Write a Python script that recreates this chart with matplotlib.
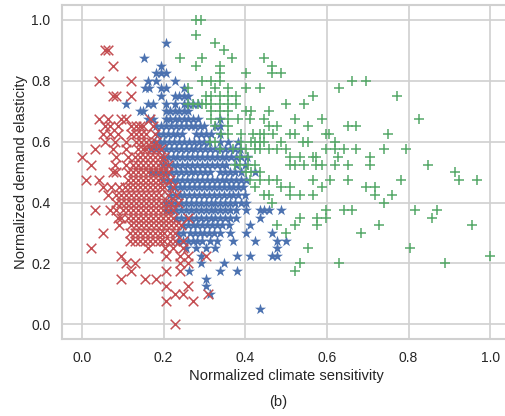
import matplotlib
matplotlib.use("Agg")
import matplotlib.pyplot as plt
import seaborn as sns

# Each row: (demand elasticity, [climate sensitivity values on that row])
red_rows = [
    (0.90, [0.056, 0.064]),
    (0.85, [0.076]),
    (0.80, [0.043, 0.119]),
    (0.75, [0.076, 0.084, 0.119]),
    (0.675, [0.043, 0.064, 0.096, 0.109, 0.166]),
    (0.65, [0.056, 0.068, 0.088, 0.121, 0.133, 0.141, 0.149, 0.174]),
    (0.625, [0.051, 0.068, 0.088, 0.121, 0.133, 0.145, 0.158, 0.178]),
    (0.60, [0.056, 0.080, 0.109, 0.133, 0.145, 0.158, 0.170, 0.182]),
    (0.575, [0.031, 0.076, 0.109, 0.137, 0.149, 0.158, 0.170, 0.182, 0.194]),
    (0.55, [0.001, 0.084, 0.113, 0.129, 0.141, 0.154, 0.166, 0.178, 0.190, 0.202]),
    (0.525, [0.023, 0.080, 0.109, 0.125, 0.137, 0.149, 0.162, 0.174, 0.186, 0.198, 0.210]),
    (0.50, [0.076, 0.084, 0.113, 0.125, 0.137, 0.149, 0.162, 0.174, 0.186, 0.198, 0.210]),
    (0.475, [0.011, 0.043, 0.113, 0.125, 0.137, 0.149, 0.162, 0.174, 0.186, 0.198, 0.215]),
    (0.45, [0.051, 0.072, 0.092, 0.105, 0.117, 0.129, 0.141, 0.154, 0.166, 0.178, 0.190, 0.202, 0.222]),
    (0.425, [0.064, 0.084, 0.096, 0.109, 0.121, 0.133, 0.145, 0.158, 0.170, 0.182, 0.194, 0.210, 0.230]),
    (0.40, [0.084, 0.096, 0.109, 0.121, 0.133, 0.145, 0.158, 0.170, 0.182, 0.194, 0.206, 0.218, 0.235]),
    (0.375, [0.031, 0.068, 0.084, 0.100, 0.113, 0.125, 0.137, 0.149, 0.162, 0.174, 0.186, 0.198, 0.210, 0.223]),
    (0.35, [0.088, 0.096, 0.113, 0.125, 0.137, 0.149, 0.162, 0.174, 0.186, 0.198, 0.210, 0.223, 0.260]),
    (0.325, [0.092, 0.121, 0.133, 0.145, 0.158, 0.170, 0.182, 0.194, 0.206, 0.218, 0.231, 0.243]),
    (0.30, [0.051, 0.117, 0.129, 0.141, 0.154, 0.166, 0.178, 0.190, 0.202, 0.215, 0.227]),
    (0.275, [0.117, 0.129, 0.141, 0.154, 0.166, 0.178, 0.190, 0.202, 0.215, 0.227, 0.247]),
    (0.25, [0.021, 0.162, 0.203, 0.223, 0.247]),
    (0.225, [0.096, 0.207, 0.239, 0.260, 0.305]),
    (0.20, [0.109, 0.129, 0.239, 0.260]),
    (0.175, [0.121, 0.207, 0.239]),
    (0.15, [0.096, 0.154, 0.182]),
    (0.125, [0.207, 0.260]),
    (0.10, [0.227, 0.247, 0.309]),
    (0.075, [0.207, 0.272]),
    (0.0, [0.227]),
]

blue_rows = [
    (0.925, [0.205]),
    (0.875, [0.152]),
    (0.85, [0.194]),
    (0.825, [0.182, 0.194, 0.205]),
    (0.80, [0.162, 0.182, 0.227]),
    (0.775, [0.154, 0.164, 0.194, 0.205, 0.249]),
    (0.75, [0.194, 0.227, 0.237, 0.249, 0.260]),
    (0.725, [0.109, 0.162, 0.174, 0.205, 0.227, 0.249, 0.260, 0.272, 0.284]),
    (0.70, [0.141, 0.149, 0.205, 0.215, 0.227, 0.237, 0.249, 0.260]),
    (0.675, [0.162, 0.174, 0.205, 0.215, 0.227, 0.237, 0.249, 0.260, 0.272, 0.284, 0.337]),
    (0.65, [0.182, 0.194, 0.206, 0.218, 0.230, 0.242, 0.254, 0.266, 0.278, 0.290, 0.300, 0.325, 0.337]),
    (0.625, [0.186, 0.198, 0.210, 0.222, 0.234, 0.246, 0.280, 0.292, 0.304, 0.317, 0.337]),
    (0.60, [0.178, 0.190, 0.202, 0.214, 0.226, 0.238, 0.250, 0.262, 0.274, 0.286, 0.298, 0.310,
            0.337, 0.357, 0.382]),
    (0.575, [0.170, 0.182, 0.194, 0.206, 0.218, 0.230, 0.242, 0.254, 0.266, 0.278, 0.290, 0.302,
             0.314, 0.326, 0.338, 0.350, 0.362, 0.374, 0.386]),
    (0.55, [0.198, 0.210, 0.222, 0.234, 0.246, 0.258, 0.270, 0.282, 0.294, 0.306, 0.318, 0.330,
            0.342, 0.354, 0.366, 0.378, 0.390, 0.405]),
    (0.525, [0.198, 0.210, 0.222, 0.234, 0.246, 0.258, 0.270, 0.282, 0.294, 0.306, 0.318, 0.330,
             0.342, 0.354, 0.378, 0.400]),
    (0.50, [0.170, 0.182, 0.194, 0.206, 0.218, 0.230, 0.242, 0.254, 0.266, 0.278, 0.290, 0.302,
            0.314, 0.338, 0.350, 0.362, 0.374, 0.390, 0.423]),
    (0.475, [0.198, 0.210, 0.222, 0.234, 0.246, 0.258, 0.270, 0.282, 0.294, 0.306, 0.318, 0.330,
             0.342, 0.354, 0.366, 0.378, 0.390, 0.403]),
    (0.45, [0.215, 0.227, 0.239, 0.251, 0.263, 0.275, 0.287, 0.299, 0.311, 0.323, 0.335, 0.347,
            0.359, 0.371, 0.383, 0.395]),
    (0.425, [0.215, 0.227, 0.239, 0.251, 0.263, 0.275, 0.287, 0.299, 0.311, 0.323, 0.335, 0.347,
             0.359, 0.371, 0.383, 0.400]),
    (0.40, [0.207, 0.219, 0.231, 0.243, 0.255, 0.267, 0.279, 0.291, 0.303, 0.315, 0.327, 0.339,
            0.351, 0.363, 0.375, 0.390, 0.403]),
    (0.375, [0.207, 0.219, 0.231, 0.243, 0.255, 0.267, 0.279, 0.291, 0.303, 0.315, 0.327, 0.339,
             0.351, 0.363, 0.378, 0.403, 0.435, 0.445, 0.457, 0.488]),
    (0.35, [0.231, 0.243, 0.255, 0.267, 0.279, 0.291, 0.303, 0.315, 0.327, 0.339, 0.351, 0.363,
            0.378, 0.435]),
    (0.325, [0.247, 0.259, 0.271, 0.283, 0.295, 0.307, 0.319, 0.331, 0.343, 0.360, 0.411]),
    (0.30, [0.235, 0.247, 0.264, 0.276, 0.288, 0.300, 0.312, 0.324, 0.337, 0.362, 0.403, 0.466]),
    (0.275, [0.235, 0.247, 0.259, 0.271, 0.283, 0.295, 0.313, 0.330, 0.370, 0.423, 0.477, 0.500]),
    (0.25, [0.256, 0.280, 0.305, 0.325, 0.477]),
    (0.225, [0.292, 0.380, 0.411, 0.466, 0.477]),
    (0.20, [0.292, 0.347]),
    (0.175, [0.262, 0.337, 0.380]),
    (0.15, [0.305]),
    (0.125, [0.305]),
    (0.10, [0.313]),
    (0.05, [0.435]),
]

green_rows = [
    (1.0, [0.280, 0.292]),
    (0.95, [0.280]),
    (0.925, [0.325]),
    (0.90, [0.347]),
    (0.875, [0.239, 0.295, 0.368, 0.445]),
    (0.85, [0.280, 0.337, 0.466]),
    (0.825, [0.337, 0.403, 0.466, 0.488]),
    (0.80, [0.295, 0.317, 0.337, 0.662, 0.695]),
    (0.775, [0.260, 0.325, 0.357, 0.403, 0.435, 0.629]),
    (0.75, [0.305, 0.317, 0.337, 0.357, 0.378, 0.566, 0.771]),
    (0.725, [0.260, 0.272, 0.284, 0.295, 0.305, 0.317, 0.337, 0.357, 0.378, 0.500, 0.543]),
    (0.70, [0.317, 0.337, 0.357, 0.403, 0.415, 0.457]),
    (0.675, [0.317, 0.337, 0.357, 0.382, 0.411, 0.445, 0.521, 0.587, 0.825]),
    (0.65, [0.325, 0.357, 0.457, 0.477, 0.554, 0.651, 0.672]),
    (0.625, [0.341, 0.357, 0.390, 0.419, 0.435, 0.445, 0.468, 0.509, 0.521, 0.597, 0.606, 0.749]),
    (0.60, [0.313, 0.325, 0.390, 0.415, 0.425, 0.435, 0.445, 0.488, 0.541, 0.554, 0.620]),
    (0.575, [0.337, 0.370, 0.390, 0.403, 0.423, 0.435, 0.457, 0.477, 0.500, 0.597, 0.619, 0.641,
             0.672, 0.739, 0.793]),
    (0.55, [0.386, 0.406, 0.509, 0.533, 0.566, 0.574, 0.627, 0.706]),
    (0.525, [0.374, 0.386, 0.406, 0.423, 0.509, 0.521, 0.543, 0.574, 0.587, 0.620, 0.651, 0.706, 0.847]),
    (0.50, [0.403, 0.415, 0.435, 0.913]),
    (0.475, [0.411, 0.435, 0.457, 0.477, 0.566, 0.608, 0.651, 0.782, 0.923, 0.967]),
    (0.45, [0.423, 0.488, 0.510, 0.587, 0.695, 0.717]),
    (0.425, [0.445, 0.457, 0.510, 0.533, 0.566, 0.717, 0.760]),
    (0.40, [0.466, 0.739]),
    (0.375, [0.597, 0.641, 0.662, 0.815, 0.869]),
    (0.35, [0.533, 0.575, 0.597, 0.858]),
    (0.325, [0.477, 0.521, 0.575, 0.727, 0.956]),
    (0.30, [0.500, 0.684]),
    (0.25, [0.554, 0.804]),
    (0.225, [1.0]),
    (0.20, [0.533, 0.629, 0.890]),
    (0.175, [0.521]),
]

ticks = [0.0, 0.2, 0.4, 0.6, 0.8, 1.0]


def flatten(rows):
    xs, ys = [], []
    for y, row in rows:
        for x in row:
            xs.append(x)
            ys.append(y)
    return xs, ys


sns.set_style("whitegrid")
plt.rcParams["font.family"] = ["Liberation Sans", "DejaVu Sans"]
plt.rcParams["axes.edgecolor"] = "#d0d0d0"
plt.rcParams["grid.color"] = "#d0d0d0"

fig = plt.figure(figsize=(5.05, 4.16), dpi=100)
ax = fig.add_axes([0.1218, 0.1839, 0.8895, 0.8046])

bx, by = flatten(blue_rows)
gx, gy = flatten(green_rows)
rx, ry = flatten(red_rows)

ax.scatter(bx, by, marker="*", s=70, color="#4C72B0", linewidths=0)
ax.scatter(gx, gy, marker="+", s=45, color="#55A868", linewidths=1.1)
ax.scatter(rx, ry, marker="x", s=48, color="#C44E52", linewidths=1.1)

ax.set_xlim(-0.05, 1.05)
ax.set_ylim(-0.05, 1.05)
ax.set_xticks(ticks)
ax.set_yticks(ticks)
ax.tick_params(labelsize=10, pad=4.5, colors="#262626")
ax.grid(True, linewidth=1.2)
for s in ax.spines.values():
    s.set_linewidth(1.5)

ax.set_xlabel("Normalized climate sensitivity", fontsize=10.6, labelpad=3, color="#262626")
ax.set_ylabel("Normalized demand elasticity", fontsize=10.6, labelpad=2, color="#262626")
fig.text(278 / 505, 1 - 402 / 416, "(b)", ha="center", va="center", fontsize=10.6, color="#262626")

fig.savefig("out.png", dpi=100)
